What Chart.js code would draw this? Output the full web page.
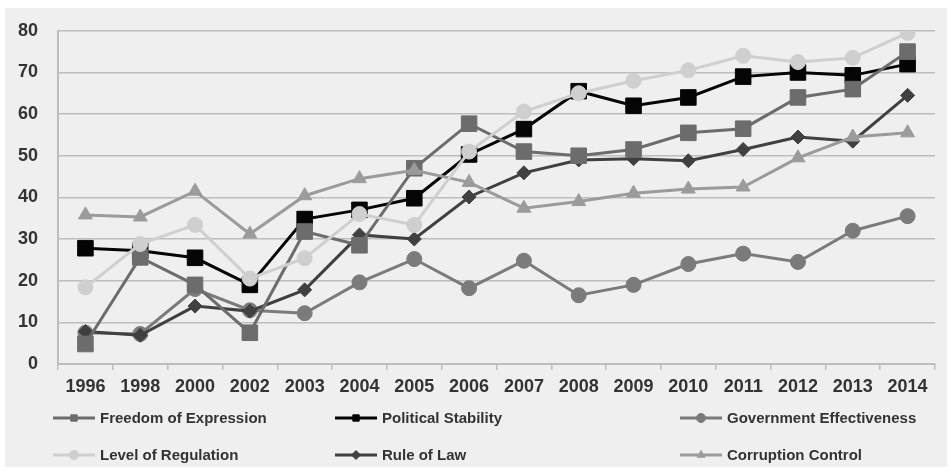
<!DOCTYPE html>
<html>
<head>
<meta charset="utf-8">
<script src="https://cdn.jsdelivr.net/npm/chart.js@4/dist/chart.umd.min.js"></script>
<style>
  html, body { margin: 0; padding: 0; background: #ffffff; }
  #wrap { position: relative; width: 951px; height: 471px; }
  canvas { display: block; }
</style>
</head>
<body>
<div id="wrap"><canvas id="c" width="951" height="471"></canvas></div>
<script>
// Governance indicators, percentile rank, 1996–2014
const years = ['1996','1998','2000','2002','2003','2004','2005','2006','2007','2008','2009','2010','2011','2012','2013','2014'];

const freedomOfExpression    = [4.8, 25.6, 19, 7.5, 31.8, 28.5, 47, 57.7, 51, 50, 51.5, 55.5, 56.5, 64, 66, 75];
const politicalStability     = [27.8, 27.2, 25.5, 19, 34.8, 37, 39.8, 50.3, 56.4, 65.5, 62, 64, 69, 70, 69.3, 72];
const governmentEffectiveness= [7.5, 7.2, 18, 12.9, 12.2, 19.6, 25.2, 18.2, 24.8, 16.5, 19, 24, 26.5, 24.5, 32, 35.5];
const levelOfRegulation      = [18.4, 28.8, 33.4, 20.5, 25.4, 36, 33.4, 51, 60.6, 65, 68, 70.5, 74, 72.5, 73.5, 79.5];
const ruleOfLaw              = [7.8, 6.9, 13.9, 12.7, 17.8, 31, 30, 40.1, 45.9, 49, 49.3, 48.8, 51.5, 54.5, 53.5, 64.5];
const corruptionControl      = [35.8, 35.3, 41.5, 31.2, 40.4, 44.5, 46.5, 43.6, 37.4, 39, 41, 42, 42.5, 49.5, 54.5, 55.5];

const yTicks = [0, 10, 20, 30, 40, 50, 60, 70, 80];

const TXT = '#333333';
const GRID = '#bdbdbd';
const FONT = '"Liberation Sans", Arial, sans-serif';

function series(label, data, color, style, radius, order) {
  return {
    label, data,
    borderColor: color, backgroundColor: color,
    pointBackgroundColor: color, pointBorderColor: color,
    pointStyle: style, pointRadius: radius, pointHoverRadius: radius,
    pointBorderWidth: 1, borderWidth: 3, tension: 0, order
  };
}

const datasets = [
  series('Freedom of Expression', freedomOfExpression, '#6c6c6c', 'rect', 11, 2),
  series('Political Stability', politicalStability, '#050505', 'rect', 11, 3),
  series('Government Effectiveness', governmentEffectiveness, '#7b7b7b', 'circle', 7.5, 5),
  series('Level of Regulation', levelOfRegulation, '#cfcfcf', 'circle', 7.5, 0),
  series('Rule of Law', ruleOfLaw, '#404040', 'rectRot', 7, 4),
  series('Corruption Control', corruptionControl, '#9b9b9b', 'triangle', 8, 1)
];

// Panel background behind the whole chart
const panel = {
  id: 'panel',
  beforeDraw(chart) {
    const ctx = chart.ctx;
    ctx.save();
    ctx.fillStyle = '#efefef';
    ctx.fillRect(5, 8, 942, 459);
    ctx.restore();
  }
};

// Three-column legend below the axis
const legendGrid = {
  id: 'legendGrid',
  afterDraw(chart) {
    const ctx = chart.ctx;
    const cols = [53, 335, 680];
    const rows = [418, 455];
    ctx.save();
    chart.data.datasets.forEach((ds, i) => {
      const x = cols[i % 3], y = rows[Math.floor(i / 3)];
      ctx.strokeStyle = ds.borderColor;
      ctx.lineWidth = 3;
      ctx.beginPath();
      ctx.moveTo(x, y);
      ctx.lineTo(x + 42, y);
      ctx.stroke();
      ctx.fillStyle = ds.backgroundColor;
      ctx.strokeStyle = ds.borderColor;
      ctx.lineWidth = 1;
      Chart.helpers.drawPoint(ctx, { pointStyle: ds.pointStyle, radius: 4.5, rotation: 0, borderWidth: 1 }, x + 21, y);
      ctx.fillStyle = TXT;
      ctx.font = 'bold 15px ' + FONT;
      ctx.textBaseline = 'middle';
      ctx.textAlign = 'left';
      ctx.fillText(ds.label, x + 47, y + 1);
    });
    ctx.restore();
  }
};

new Chart(document.getElementById('c'), {
  type: 'line',
  data: { labels: years, datasets },
  plugins: [panel, legendGrid],
  options: {
    responsive: false,
    animation: false,
    layout: { padding: { top: 29, right: 16, bottom: 67, left: 0 } },
    plugins: { legend: { display: false }, tooltip: { enabled: false } },
    scales: {
      x: {
        offset: true,
        afterFit(s) { s.height = 40; },
        grid: { offset: true, drawOnChartArea: false, color: GRID, lineWidth: 1.5, tickLength: 6 },
        border: { color: GRID, width: 2 },
        ticks: { color: TXT, padding: 6, font: { family: FONT, size: 18, weight: 'bold' } }
      },
      y: {
        min: 0, max: 80,
        afterFit(s) { s.width = 58; },
        afterBuildTicks(s) { s.ticks = yTicks.map(v => ({ value: v })); },
        grid: { color: GRID, lineWidth: 1.5, drawTicks: false },
        border: { color: GRID, width: 2 },
        ticks: { color: TXT, padding: 20, font: { family: FONT, size: 18, weight: 'bold' } }
      }
    }
  }
});
</script>
</body>
</html>
